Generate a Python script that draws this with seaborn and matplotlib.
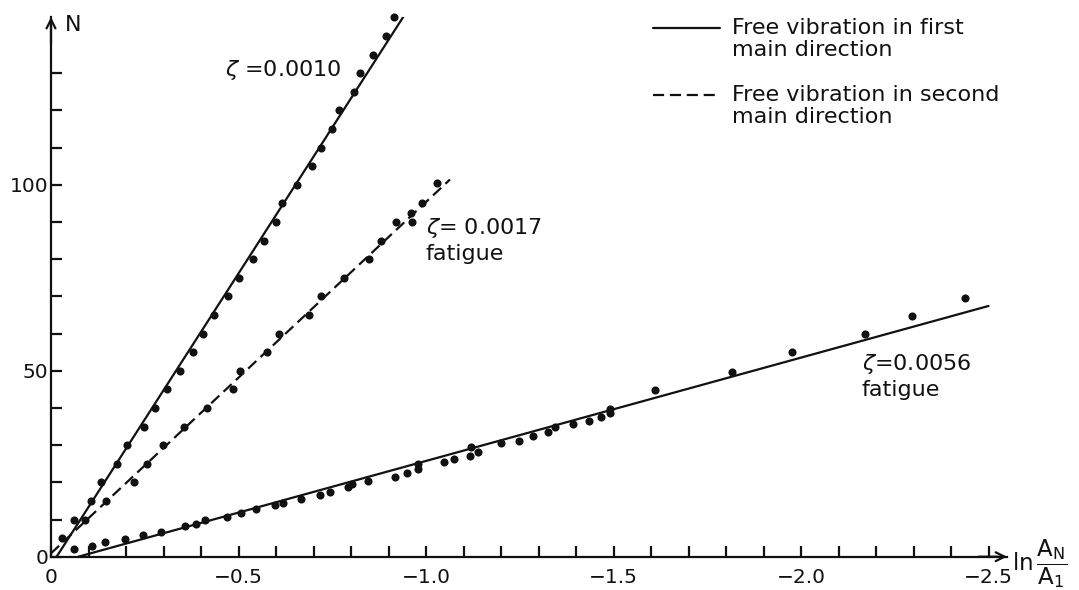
import numpy as np
import pandas as pd
import matplotlib
matplotlib.use("Agg")
import matplotlib.pyplot as plt
from matplotlib.lines import Line2D
from matplotlib.legend_handler import HandlerLine2D
from matplotlib.ticker import FixedLocator, FixedFormatter
import seaborn as sns

# ---------------- data ----------------
# zeta = 0.0010, first main direction (solid)
s1_ln = [-0.030, -0.060, -0.106, -0.133, -0.177, -0.202, -0.249, -0.277, -0.309, -0.344,
         -0.378, -0.404, -0.435, -0.471, -0.501, -0.539, -0.569, -0.601, -0.615, -0.657,
         -0.697, -0.719, -0.750, -0.768, -0.808, -0.824, -0.859, -0.893, -0.915]
s1_N = [5, 10, 15, 20, 25, 30, 35, 40, 45, 50, 55, 60, 65, 70, 75, 80, 85, 90, 95, 100,
        105, 110, 115, 120, 125, 130, 135, 140, 145]

# zeta = 0.0017 fatigue, second main direction (dashed)
s2_ln = [-0.091, -0.147, -0.221, -0.257, -0.298, -0.355, -0.415, -0.486, -0.503, -0.577,
         -0.609, -0.688, -0.720, -0.781, -0.849, -0.880, -0.920, -0.962, -0.959, -0.988, -1.030]
s2_N = [10, 15, 20, 25, 30, 35, 40, 45, 50, 55, 60, 65, 70, 75, 80, 85, 90, 90, 92.5, 95, 100.5]

# zeta = 0.0056 fatigue, first main direction (solid)
s3_ln = [-0.060, -0.108, -0.145, -0.196, -0.246, -0.292, -0.356, -0.387, -0.411, -0.470,
         -0.507, -0.547, -0.597, -0.619, -0.667, -0.717, -0.745, -0.793, -0.802, -0.846,
         -0.917, -0.950, -0.979, -0.979, -1.048, -1.075, -1.117, -1.119, -1.139, -1.199,
         -1.249, -1.286, -1.326, -1.344, -1.391, -1.435, -1.466, -1.491, -1.491, -1.611,
         -1.817, -1.977, -2.171, -2.295, -2.437]
s3_N = [2.0, 2.9, 4.0, 4.8, 5.8, 6.7, 8.3, 8.7, 9.9, 10.8, 11.8, 12.8, 13.8, 14.5, 15.5,
        16.5, 17.3, 18.8, 19.5, 20.3, 21.5, 22.4, 23.5, 24.8, 25.5, 26.3, 27.2, 29.6, 28.2,
        30.5, 31.2, 32.4, 33.6, 34.9, 35.7, 36.6, 37.6, 38.5, 39.7, 44.8, 49.7, 54.9, 59.8,
        64.7, 69.6]

# fitted straight lines (end points)
fit1_ln = [-0.015, -0.940]
fit1_N = [0.0, 145.2]
fit2_ln = [0.0, -1.064]
fit2_N = [0.9, 101.4]
fit3_ln = [-0.073, -2.500]
fit3_N = [0.0, 67.4]

# ticks
x_major = [0.0, -0.5, -1.0, -1.5, -2.0, -2.5]
x_major_labels = ["0", "\u22120.5", "\u22121.0", "\u22121.5", "\u22122.0", "\u22122.5"]
x_minor = [-0.1, -0.2, -0.3, -0.4, -0.6, -0.7, -0.8, -0.9, -1.1, -1.2, -1.3, -1.4,
           -1.6, -1.7, -1.8, -1.9, -2.1, -2.2, -2.3, -2.4]
y_major = [0, 50, 100]
y_major_labels = ["0", "50", "100"]
y_minor = [10, 20, 30, 40, 60, 70, 80, 90, 110, 120, 130]

legend_labels = ["Free vibration in first\nmain direction",
                 "Free vibration in second\nmain direction"]
zeta_labels = ["$\\zeta$ =0.0010", "$\\zeta$= 0.0017\nfatigue", "$\\zeta$=0.0056\nfatigue"]

# ---------------- style ----------------
sns.set_theme(style="ticks")
plt.rcParams["font.family"] = ["DejaVu Sans"]
plt.rcParams["mathtext.fontset"] = "dejavusans"
INK = "#111111"
W, H = 1079, 590
LW = 1.6
DASH = (0, (5, 2.6))

fig = plt.figure(figsize=(W / 100, H / 100), dpi=100)
fig.patch.set_facecolor("white")
ax_left, ax_bottom, ax_right, ax_top = 51, 556.7, 1007, 17
ax = fig.add_axes([ax_left / W, 1 - ax_bottom / H, (ax_right - ax_left) / W, (ax_bottom - ax_top) / H])
ax.set_facecolor("white")

# lines
sns.lineplot(x=fit1_ln, y=fit1_N, ax=ax, color=INK, lw=LW, estimator=None, sort=False)
sns.lineplot(x=fit2_ln, y=fit2_N, ax=ax, color=INK, lw=LW, estimator=None, sort=False,
             linestyle=DASH)
sns.lineplot(x=fit3_ln, y=fit3_N, ax=ax, color=INK, lw=LW, estimator=None, sort=False)

# points
for xs, ys in [(s1_ln, s1_N), (s2_ln, s2_N), (s3_ln, s3_N)]:
    sns.scatterplot(x=xs, y=ys, ax=ax, color=INK, s=34, linewidth=0, clip_on=False, zorder=3)

# axes
ax.set_xlim(0, -(ax_right - ax_left) / 375.0)
ax.set_ylim(0, (ax_bottom - ax_top) / 3.72)
ax.xaxis.set_major_locator(FixedLocator(x_major))
ax.xaxis.set_major_formatter(FixedFormatter(x_major_labels))
ax.xaxis.set_minor_locator(FixedLocator(x_minor))
ax.yaxis.set_major_locator(FixedLocator(y_major))
ax.yaxis.set_major_formatter(FixedFormatter(y_major_labels))
ax.yaxis.set_minor_locator(FixedLocator(y_minor))
ax.tick_params(which="both", direction="in", length=8, width=LW, color=INK)
ax.tick_params(axis="x", which="major", labelsize=14.5, pad=8, labelcolor=INK)
ax.tick_params(axis="y", which="major", labelsize=14.5, pad=2, labelcolor=INK)
ax.spines[["top", "right"]].set_visible(False)
for s in ["left", "bottom"]:
    ax.spines[s].set_linewidth(LW)
    ax.spines[s].set_color(INK)
ax.set_xlabel("")
ax.set_ylabel("")

# arrow heads on the axes
arrow = dict(arrowstyle="->", color=INK, lw=LW, shrinkA=0, shrinkB=0, mutation_scale=16)
ax.annotate("", xy=(1, 0), xytext=(0.97, 0), xycoords="axes fraction", arrowprops=arrow)
ax.annotate("", xy=(0, 1), xytext=(0, 0.95), xycoords="axes fraction", arrowprops=arrow)

def fpos(px, py):
    return px / W, 1 - py / H

fig.text(*fpos(65, 25), "N", fontsize=16, color=INK, va="center", ha="left")
fig.text(*fpos(1012, 564), "ln$\\,\\dfrac{\\mathrm{A}_{\\mathrm{N}}}{\\mathrm{A}_{1}}$",
         fontsize=16.5, color=INK, va="center", ha="left")

# annotations
fig.text(*fpos(225, 70), zeta_labels[0], fontsize=16, color=INK, va="center", ha="left")
fig.text(*fpos(426, 240), zeta_labels[1], fontsize=16, color=INK, va="center", ha="left",
         linespacing=1.3)
fig.text(*fpos(862, 376), zeta_labels[2], fontsize=16, color=INK, va="center", ha="left",
         linespacing=1.3)


# legend: handle aligned with the first line of each two-line label
class FirstLineHandler(HandlerLine2D):
    def create_artists(self, legend, orig_handle, xdescent, ydescent, width, height,
                       fontsize, trans):
        arts = super().create_artists(legend, orig_handle, xdescent, ydescent, width,
                                      height, fontsize, trans)
        for a in arts:
            a.set_ydata(np.asarray(a.get_ydata()) + 0.5 * fontsize)
        return arts


handles = [Line2D([], [], color=INK, lw=LW),
           Line2D([], [], color=INK, lw=LW, linestyle=DASH)]
leg = fig.legend(handles, legend_labels, loc="upper left", bbox_to_anchor=fpos(653, 18),
                 frameon=False, fontsize=16, handlelength=3.0, handletextpad=0.55,
                 labelspacing=1.12, borderpad=0, borderaxespad=0,
                 handler_map={Line2D: FirstLineHandler()})
for t in leg.get_texts():
    t.set_linespacing(1.12)
    t.set_color(INK)

fig.savefig("out.png", dpi=100, facecolor="white")
